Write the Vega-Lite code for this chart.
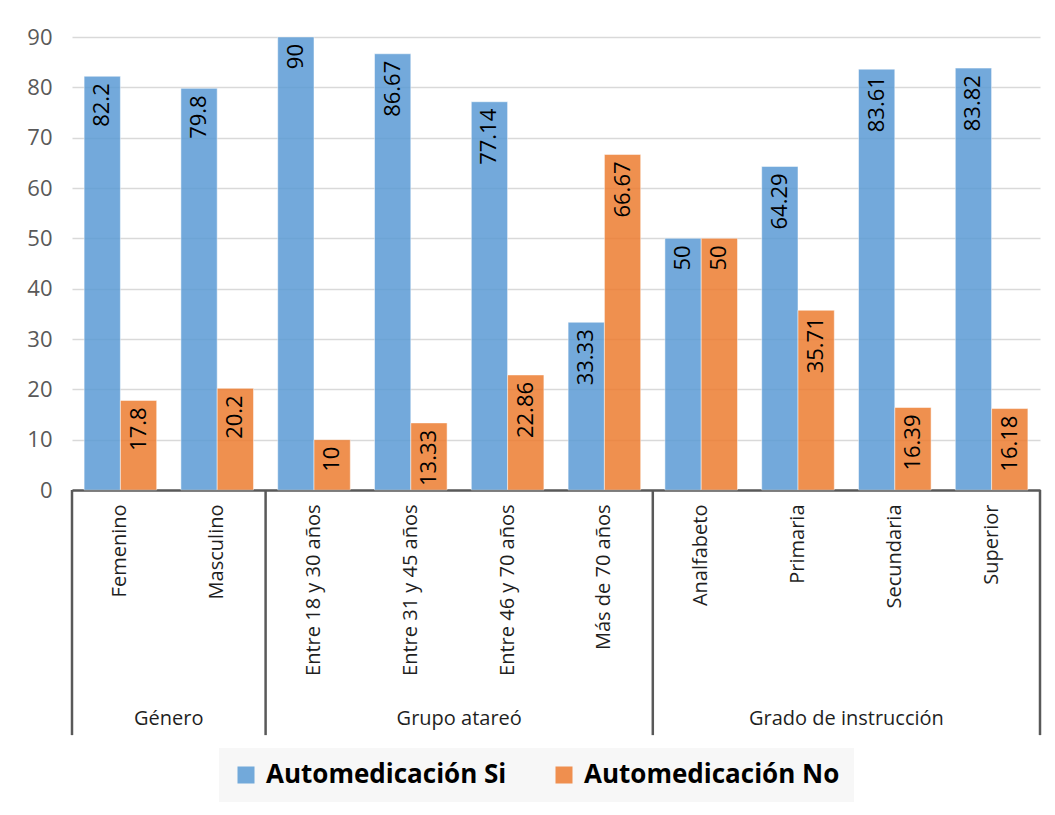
{
  "$schema": "https://vega.github.io/schema/vega-lite/v6.json",
  "width": 968,
  "height": 453,
  "autosize": {"type": "none"},
  "padding": {"left": 72, "top": 37, "right": 15, "bottom": 325},
  "background": "white",
  "config": {"view": {"stroke": null}, "font": "Open Sans"},
  "datasets": {
    "bars": [
      {"categoria": "Femenino", "serie": "Automedicación Si", "valor": 82.2},
      {"categoria": "Femenino", "serie": "Automedicación No", "valor": 17.8},
      {"categoria": "Masculino", "serie": "Automedicación Si", "valor": 79.8},
      {"categoria": "Masculino", "serie": "Automedicación No", "valor": 20.2},
      {"categoria": "Entre 18 y 30 años", "serie": "Automedicación Si", "valor": 90},
      {"categoria": "Entre 18 y 30 años", "serie": "Automedicación No", "valor": 10},
      {"categoria": "Entre 31 y 45 años", "serie": "Automedicación Si", "valor": 86.67},
      {"categoria": "Entre 31 y 45 años", "serie": "Automedicación No", "valor": 13.33},
      {"categoria": "Entre 46 y 70 años", "serie": "Automedicación Si", "valor": 77.14},
      {"categoria": "Entre 46 y 70 años", "serie": "Automedicación No", "valor": 22.86},
      {"categoria": "Más de 70 años", "serie": "Automedicación Si", "valor": 33.33},
      {"categoria": "Más de 70 años", "serie": "Automedicación No", "valor": 66.67},
      {"categoria": "Analfabeto", "serie": "Automedicación Si", "valor": 50},
      {"categoria": "Analfabeto", "serie": "Automedicación No", "valor": 50},
      {"categoria": "Primaria", "serie": "Automedicación Si", "valor": 64.29},
      {"categoria": "Primaria", "serie": "Automedicación No", "valor": 35.71},
      {"categoria": "Secundaria", "serie": "Automedicación Si", "valor": 83.61},
      {"categoria": "Secundaria", "serie": "Automedicación No", "valor": 16.39},
      {"categoria": "Superior", "serie": "Automedicación Si", "valor": 83.82},
      {"categoria": "Superior", "serie": "Automedicación No", "valor": 16.18}
    ],
    "grupos": [
      {"categoria": "Masculino", "grupo": "Género"},
      {"categoria": "Entre 46 y 70 años", "grupo": "Grupo atareó"},
      {"categoria": "Secundaria", "grupo": "Grado de instrucción"}
    ],
    "separadores": [
      {"categoria": "Femenino"},
      {"categoria": "Entre 18 y 30 años"},
      {"categoria": "Analfabeto"}
    ],
    "separadorFinal": [
      {"categoria": "Superior"}
    ]
  },
  "layer": [
    {
      "data": {"name": "bars"},
      "mark": {"type": "bar", "opacity": 0.85, "stroke": "white", "strokeWidth": 1, "strokeOpacity": 0.5},
      "encoding": {
        "x": {
          "field": "categoria",
          "type": "nominal",
          "title": null,
          "scale": {
            "domain": ["Femenino", "Masculino", "Entre 18 y 30 años", "Entre 31 y 45 años", "Entre 46 y 70 años", "Más de 70 años", "Analfabeto", "Primaria", "Secundaria", "Superior"],
            "paddingInner": 0.25,
            "paddingOuter": 0.125
          },
          "axis": {
            "domainColor": "#595959",
            "domainWidth": 2.5,
            "ticks": false,
            "grid": false,
            "labelAngle": -90,
            "labelFontSize": 20,
            "labelColor": "#1f1f1f",
            "labelPadding": 14,
            "labelLimit": 300
          }
        },
        "xOffset": {
          "field": "serie",
          "type": "nominal",
          "scale": {"domain": ["Automedicación Si", "Automedicación No"]}
        },
        "y": {
          "field": "valor",
          "type": "quantitative",
          "title": null,
          "scale": {"domain": [0, 90], "nice": false},
          "axis": {
            "domain": false,
            "ticks": false,
            "values": [0, 10, 20, 30, 40, 50, 60, 70, 80, 90],
            "labelFontSize": 22,
            "labelColor": "#595959",
            "labelPadding": 20,
            "gridColor": "#d9d9d9",
            "gridWidth": 1.5
          }
        },
        "color": {
          "field": "serie",
          "type": "nominal",
          "scale": {"domain": ["Automedicación Si", "Automedicación No"], "range": ["#5B9BD5", "#ED7D31"]},
          "legend": {
            "orient": "none",
            "legendX": 147,
            "legendY": 711,
            "direction": "horizontal",
            "title": null,
            "symbolType": "square",
            "symbolSize": 289,
            "symbolStrokeWidth": 0,
            "symbolOpacity": 0.85,
            "labelFontSize": 26,
            "labelFontWeight": "bold",
            "labelColor": "#000000",
            "labelLimit": 400,
            "labelOffset": 7,
            "fillColor": "#f7f7f7",
            "padding": 14,
            "columnPadding": 44
          }
        }
      }
    },
    {
      "data": {"name": "bars"},
      "mark": {"type": "text", "angle": 270, "align": "right", "baseline": "middle", "dx": -7, "fontSize": 22, "color": "#000000"},
      "encoding": {
        "x": {"field": "categoria", "type": "nominal"},
        "xOffset": {"field": "serie", "type": "nominal"},
        "y": {"field": "valor", "type": "quantitative"},
        "text": {"field": "valor", "type": "quantitative"}
      }
    },
    {
      "data": {"name": "separadores"},
      "mark": {"type": "rule", "color": "#595959", "strokeWidth": 2.5},
      "encoding": {
        "x": {"field": "categoria", "type": "nominal", "bandPosition": -0.16667},
        "y": {"datum": 0},
        "y2": {"datum": -48.7}
      }
    },
    {
      "data": {"name": "separadorFinal"},
      "mark": {"type": "rule", "color": "#595959", "strokeWidth": 2.5},
      "encoding": {
        "x": {"field": "categoria", "type": "nominal", "bandPosition": 1.16667},
        "y": {"datum": 0},
        "y2": {"datum": -48.7}
      }
    },
    {
      "data": {"name": "grupos"},
      "mark": {"type": "text", "align": "center", "baseline": "middle", "fontSize": 20, "color": "#1f1f1f"},
      "encoding": {
        "x": {"field": "categoria", "type": "nominal", "bandPosition": -0.16667},
        "y": {"datum": -45.5},
        "text": {"field": "grupo", "type": "nominal"}
      }
    }
  ]
}
